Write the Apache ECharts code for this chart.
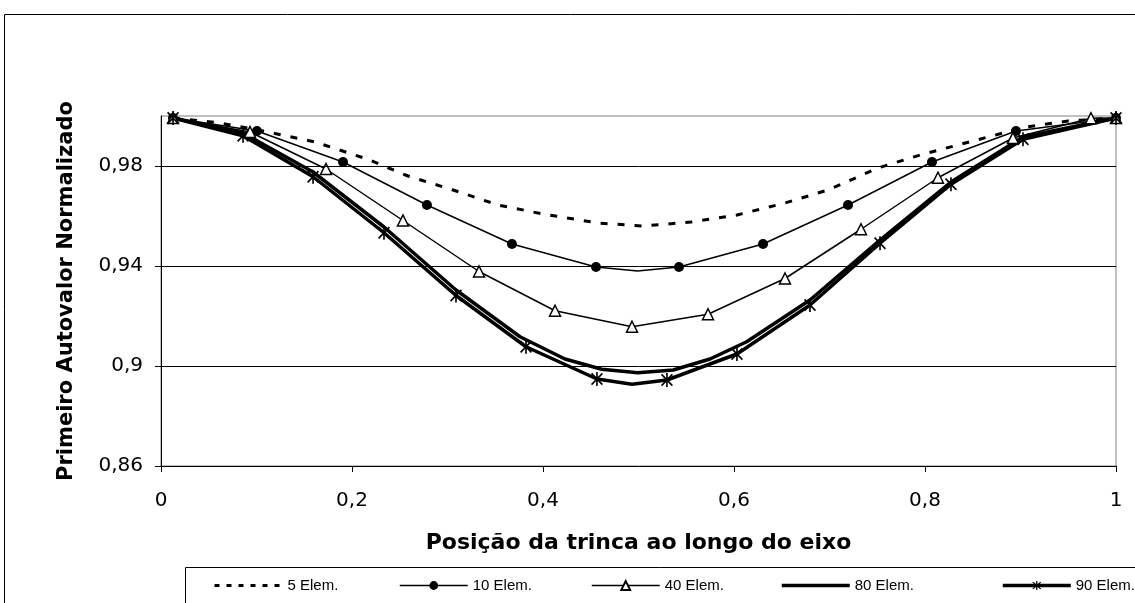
<!DOCTYPE html>
<html>
<head>
<meta charset="utf-8">
<script src="https://cdn.jsdelivr.net/npm/echarts@6/dist/echarts.min.js"></script>
<style>
  html, body { margin: 0; padding: 0; background: #fff; }
  #chart { width: 1135px; height: 603px; }
</style>
</head>
<body>
<div id="chart"></div>
<script>
// posicao da trinca (x) e primeiro autovalor normalizado (y)
var x5 = [0.0126, 0.0618, 0.1068, 0.1613, 0.2157, 0.2586, 0.3058, 0.3529, 0.4000, 0.4576, 0.5047,
          0.5550, 0.6031, 0.6534, 0.6984, 0.7508, 0.7948, 0.8471, 0.9047, 0.9497, 1.0];
var y5 = [0.9992, 0.9972, 0.9940, 0.9896, 0.9828, 0.9760, 0.9704, 0.9644, 0.9608, 0.9572, 0.9560,
          0.9576, 0.9604, 0.9652, 0.9704, 0.9792, 0.9844, 0.9897, 0.9955, 0.9980, 0.9992];

var x10 = [0.0126, 0.1005, 0.1906, 0.2785, 0.3675, 0.4555, 0.4990, 0.5424, 0.6304, 0.7194, 0.8073, 0.8953, 1.0];
var y10 = [0.9992, 0.9940, 0.9816, 0.9644, 0.9488, 0.9396, 0.9380, 0.9396, 0.9488, 0.9644, 0.9816, 0.9940, 0.9992];
var plain10 = [6];

var x40 = [0.0126, 0.0932, 0.1728, 0.2534, 0.3330, 0.4126, 0.4932, 0.5728, 0.6534, 0.7330, 0.8136, 0.8921, 0.9738, 1.0];
var y40 = [0.9992, 0.9936, 0.9788, 0.9582, 0.9378, 0.9221, 0.9157, 0.9207, 0.9350, 0.9547, 0.9753, 0.9912, 0.9991, 0.9992];

var x80 = [0.0126, 0.0859, 0.1592, 0.2335, 0.3089, 0.3759, 0.4230, 0.4615, 0.4992, 0.5364, 0.5749,
           0.6133, 0.6796, 0.7529, 0.8272, 0.9026, 1.0];
var y80 = [0.9992, 0.9932, 0.9776, 0.9556, 0.9304, 0.9117, 0.9028, 0.8987, 0.8973, 0.8984, 0.9028,
           0.9097, 0.9264, 0.9504, 0.9736, 0.9916, 0.9992];

var x90 = [0.0126, 0.0859, 0.1592, 0.2335, 0.3089, 0.3822, 0.4565, 0.4932, 0.5298, 0.6031, 0.6796,
           0.7529, 0.8272, 0.9026, 1.0];
var y90 = [0.9992, 0.9921, 0.9757, 0.9533, 0.9282, 0.9077, 0.8948, 0.8927, 0.8944, 0.9048, 0.9244,
           0.9491, 0.9727, 0.9907, 0.9992];
var plain90 = [7];

var names = ['5 Elem.', '10 Elem.', '40 Elem.', '80 Elem.', '90 Elem.'];
var yTicks = [0.86, 0.9, 0.94, 0.98];
var gridY = [0.9, 0.94, 0.98];

var axisFont = 'DejaVu Sans, Verdana, sans-serif';
var legendFont = 'Liberation Sans, Arial, sans-serif';
var asterisk = 'path://M-0.6,-5L0.6,-5L0.6,5L-0.6,5Z' +
  'M-4.4,-3.55L-3.55,-4.4L4.4,3.55L3.55,4.4Z' +
  'M3.55,-4.4L4.4,-3.55L-3.55,4.4L-4.4,3.55Z';

function pairs(xs, ys, plain) {
  var out = [];
  for (var i = 0; i < xs.length; i++) {
    var item = { value: [xs[i], ys[i]] };
    if (plain && plain.indexOf(i) >= 0) item.symbol = 'none';
    out.push(item);
  }
  return out;
}

function comma(v) {
  return String(+v.toFixed(2)).replace('.', ',');
}

// one legend block per entry, spread along the bottom box like the original
var legendLeft = [208, 394, 586, 775, 996];
var legendLine = [
  { width: 3, type: [5, 7] },
  { width: 1.5 },
  { width: 1.5 },
  { width: 3.5 },
  { width: 3.5 }
];
var noMark = { color: 'rgba(0,0,0,0)', borderWidth: 0, opacity: 0 };
var legends = [];
for (var i = 0; i < names.length; i++) {
  var entry = { name: names[i] };
  if (i === 0 || i === 3) entry.itemStyle = noMark;
  legends.push({
    data: [entry],
    left: legendLeft[i],
    top: 573,
    itemWidth: 68,
    itemHeight: 11,
    itemGap: 0,
    selectedMode: false,
    lineStyle: legendLine[i],
    textStyle: { fontFamily: legendFont, fontSize: 15, color: '#000' }
  });
}

var chart = echarts.init(document.getElementById('chart'));
chart.setOption({
  animation: false,
  backgroundColor: '#fff',
  color: ['#000', '#000', '#000', '#000', '#000'],
  grid: {
    left: 161, right: 19, top: 116, bottom: 137,
    show: true, borderColor: '#808080', borderWidth: 1
  },
  legend: legends,
  graphic: [
    { type: 'rect', shape: { x: 4.5, y: 14.5, width: 1200, height: 700 },
      style: { fill: 'none', stroke: '#000', lineWidth: 1 }, z: -1 },
    { type: 'rect', shape: { x: 185.5, y: 567.5, width: 1000, height: 100 },
      style: { fill: 'none', stroke: '#000', lineWidth: 1 }, z: -1 }
  ],
  xAxis: {
    type: 'value', min: 0, max: 1, interval: 0.2,
    name: 'Posição da trinca ao longo do eixo',
    nameLocation: 'middle', nameGap: 66,
    nameTextStyle: { fontFamily: axisFont, fontSize: 22, fontWeight: 'bold', color: '#000' },
    axisLine: { lineStyle: { color: '#000', width: 1 } },
    axisTick: { show: true, length: 6, lineStyle: { color: '#000' } },
    axisLabel: { fontFamily: axisFont, fontSize: 20, color: '#000', margin: 25, formatter: comma },
    splitLine: { show: false }
  },
  yAxis: {
    type: 'value', min: 0.86, max: 1.0, interval: 0.02,
    name: 'Primeiro Autovalor Normalizado',
    nameLocation: 'middle', nameGap: 84, nameRotate: 90,
    nameTextStyle: { fontFamily: axisFont, fontSize: 21, fontWeight: 'bold', color: '#000' },
    axisLine: { show: true, lineStyle: { color: '#000', width: 1 } },
    axisTick: { show: true, length: 6, customValues: yTicks, lineStyle: { color: '#000' } },
    axisLabel: {
      fontFamily: axisFont, fontSize: 20, color: '#000', margin: 18,
      customValues: yTicks,
      formatter: function (v) {
        var k = (v - 0.86) / 0.04;
        if (Math.abs(k - Math.round(k)) > 0.01 || v > 0.99) return '';
        return comma(v);
      }
    },
    splitLine: { show: false }
  },
  series: [
    {
      name: names[0], type: 'line', data: pairs(x5, y5), symbol: 'none',
      lineStyle: { width: 3, type: [7, 10], color: '#000' },
      markLine: {
        silent: true, symbol: ['none', 'none'], label: { show: false },
        lineStyle: { color: '#000', width: 1, type: 'solid' },
        data: gridY.map(function (v) { return { yAxis: v }; })
      }
    },
    {
      name: names[1], type: 'line', data: pairs(x10, y10, plain10),
      symbol: 'circle', symbolSize: 10, showAllSymbol: true,
      lineStyle: { width: 1.5, color: '#000' },
      itemStyle: { color: '#000' }
    },
    {
      name: names[2], type: 'line', data: pairs(x40, y40),
      symbol: 'triangle', symbolSize: 11, showAllSymbol: true,
      lineStyle: { width: 1.5, color: '#000' },
      itemStyle: { color: '#fff', borderColor: '#000', borderWidth: 1.5 }
    },
    {
      name: names[3], type: 'line', data: pairs(x80, y80), symbol: 'none',
      lineStyle: { width: 3.5, color: '#000' }
    },
    {
      name: names[4], type: 'line', data: pairs(x90, y90, plain90),
      symbol: asterisk, symbolSize: [12, 14], showAllSymbol: true,
      lineStyle: { width: 3.5, color: '#000' },
      itemStyle: { color: '#000' }
    }
  ]
});
</script>
</body>
</html>
